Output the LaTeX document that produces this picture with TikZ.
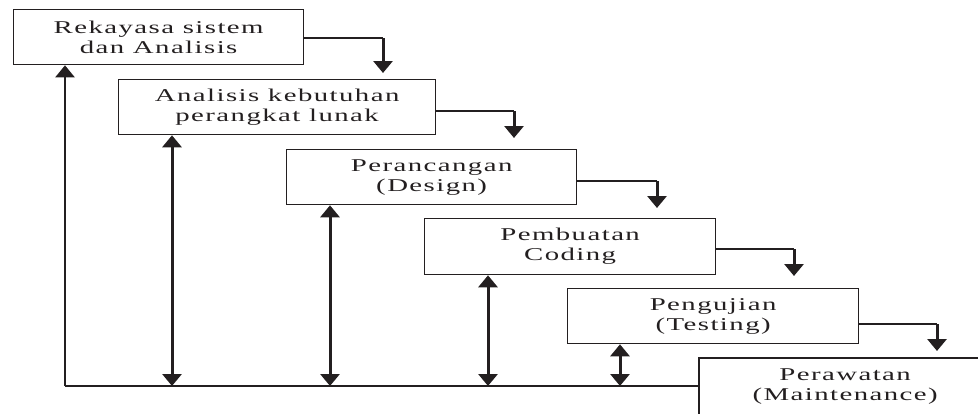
\documentclass[tikz,border=0pt]{standalone}
\usepackage{fontspec}
\setmainfont{Liberation Serif}
\newfontfamily\boxfont{Liberation Serif}[FakeStretch=1.6,LetterSpace=8]
\usetikzlibrary{arrows.meta}
\definecolor{ink}{HTML}{231F20}

\tikzset{
  tip/.tip={Triangle[width=19pt,length=12pt]},
  stage/.style={draw=ink, line width=1.3pt, minimum height=55pt, inner sep=0pt,
    align=center, text=ink, font=\boxfont\fontsize{18}{20}\selectfont},
  openstage/.style={stage, draw=none},
  hline/.style={draw=ink, line width=1.3pt},
  vstem/.style={draw=ink, line width=3pt, -tip},
  fb/.style={draw=ink, line width=3pt, tip-tip},
  fbup/.style={draw=ink, line width=2.2pt, -tip},
  baseline/.style={draw=ink, line width=1.5pt}
}

\begin{document}
\begin{tikzpicture}[x=1pt, y=-1pt]
\useasboundingbox (0,0) rectangle (978,413);

% phases of the waterfall
\node[stage, minimum width=290pt, anchor=north west] (b1) at (13,9)  {Rekayasa sistem\\dan Analisis};
\node[stage, minimum width=317pt, anchor=north west] (b2) at (118,79) {Analisis kebutuhan\\perangkat lunak};
\node[stage, minimum width=290pt, anchor=north west] (b3) at (286,149) {Perancangan\\(Design)};
\node[stage, minimum width=291pt, minimum height=56pt, anchor=north west] (b4) at (424,218) {Pembuatan\\Coding};
\node[stage, minimum width=291pt, anchor=north west] (b5) at (567,288) {Pengujian\\(Testing)};
\node[openstage, minimum width=291pt, anchor=north west] (b6) at (699,358) {Perawatan\\(Maintenance)};
\draw[hline] (b6.south west) -- (b6.north west) -- (b6.north east);

% step-down connectors
\coordinate (k1) at (383,38);  \coordinate (t1) at (383,73);
\coordinate (k2) at (514,111); \coordinate (t2) at (514,138);
\coordinate (k3) at (657,181); \coordinate (t3) at (657,208);
\coordinate (k4) at (794,249); \coordinate (t4) at (794,276);
\coordinate (k5) at (937,324); \coordinate (t5) at (937,351);
\draw[hline] (b1.east |- k1) -- (k1);  \draw[vstem] (k1) -- (t1);
\draw[hline] (b2.east |- k2) -- (k2);  \draw[vstem] (k2) -- (t2);
\draw[hline] (b3.east |- k3) -- (k3);  \draw[vstem] (k3) -- (t3);
\draw[hline] (b4.east |- k4) -- (k4);  \draw[vstem] (k4) -- (t4);
\draw[hline] (b5.east |- k5) -- (k5);  \draw[vstem] (k5) -- (t5);

% feedback rail along the bottom
\coordinate (corner) at (65,386);
\coordinate (f2) at (172,386);
\coordinate (f3) at (330,386);
\coordinate (f4) at (488,386);
\coordinate (f5) at (620,386);
\draw[baseline] (corner) -- (b6.north west |- corner);
\draw[fbup] (corner) -- (b1.south -| corner);
\draw[fb] (b2.south -| f2) -- (f2);
\draw[fb] (b3.south -| f3) -- (f3);
\draw[fb] (b4.south -| f4) -- (f4);
\draw[fb] (b5.south -| f5) -- (f5);
\end{tikzpicture}
\end{document}
